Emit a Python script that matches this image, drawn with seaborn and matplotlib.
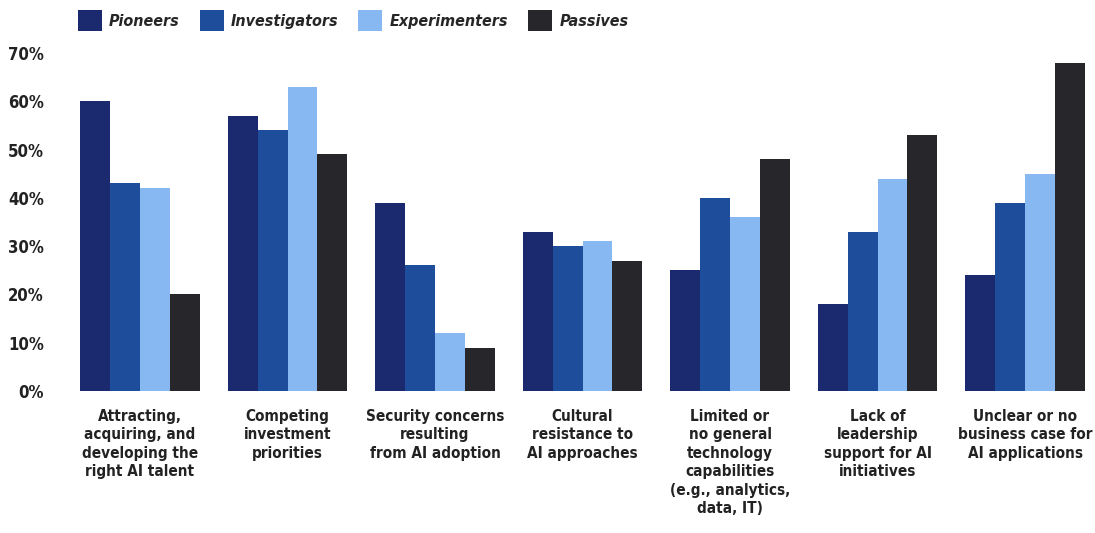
import matplotlib
matplotlib.use("Agg")
import matplotlib.pyplot as plt
from matplotlib import font_manager as fm
from matplotlib.patches import Patch
import seaborn as sns
import pandas as pd

categories = [
    "Attracting,\nacquiring, and\ndeveloping the\nright AI talent",
    "Competing\ninvestment\npriorities",
    "Security concerns\nresulting\nfrom AI adoption",
    "Cultural\nresistance to\nAI approaches",
    "Limited or\nno general\ntechnology\ncapabilities\n(e.g., analytics,\ndata, IT)",
    "Lack of\nleadership\nsupport for AI\ninitiatives",
    "Unclear or no\nbusiness case for\nAI applications",
]
segments = ["Pioneers", "Investigators", "Experimenters", "Passives"]
pioneers = [60, 57, 39, 33, 25, 18, 24]
investigators = [43, 54, 26, 30, 40, 33, 39]
experimenters = [42, 63, 12, 31, 36, 44, 45]
passives = [20, 49, 9, 27, 48, 53, 68]
yticks = [0, 10, 20, 30, 40, 50, 60, 70]
ytick_labels = ["0%", "10%", "20%", "30%", "40%", "50%", "60%", "70%"]
colors = ["#1b2a6e", "#1d4d9b", "#88b8f2", "#27272b"]

sns.set_theme(style="white")

# pick a condensed bold face if one is installed
cand = None
for f in fm.fontManager.ttflist:
    if ("Condensed" in f.fname or "Narrow" in f.fname) and f.weight in ("bold", 700):
        if "DejaVu" in f.name or "Liberation" in f.name:
            cand = f
            break
if cand is not None:
    family = cand.name
    stretch = cand.stretch
    big, small = 12, 11
else:
    family = "DejaVu Sans"
    stretch = "normal"
    big, small = 10.5, 9.5
plt.rcParams["font.family"] = [family, "DejaVu Sans"]
plt.rcParams["font.weight"] = "bold"
plt.rcParams["font.stretch"] = stretch

rows = []
series = [pioneers, investigators, experimenters, passives]
for seg, vals in zip(segments, series):
    for cat, v in zip(categories, vals):
        rows.append({"category": cat, "segment": seg, "value": v})
df = pd.DataFrame(rows)

fig = plt.figure(figsize=(10.95, 5.33), dpi=100)
ax = fig.add_axes([0.0605, 0.2664, 0.9362, 0.6342])
sns.barplot(data=df, x="category", y="value", hue="segment", hue_order=segments,
            order=categories, palette=colors, saturation=1, width=0.81, gap=0,
            linewidth=0, ax=ax, legend=False)
ax.set_xlim(-0.5, 6.45)
ax.set_ylim(0, 70)
ax.set_yticks(yticks)
ax.set_yticklabels(ytick_labels, fontsize=big, fontweight="bold", color="#222222",
                   fontstretch=stretch)
ax.set_xticks(range(len(categories)))
ax.set_xticklabels(categories, fontsize=small, fontweight="bold", color="#222222",
                   fontstretch=stretch, linespacing=1.28, va="top")
ax.tick_params(axis="x", length=0, pad=13)
ax.tick_params(axis="y", length=0, pad=16)
for lbl in ax.get_yticklabels():
    lbl.set_horizontalalignment("right")
ax.set_xlabel("")
ax.set_ylabel("")
sns.despine(ax=ax, left=True, bottom=True, top=True, right=True)
ax.grid(False)

handles = [Patch(facecolor=c, edgecolor="none") for c in colors]
fig.legend(handles, segments, loc="upper left", bbox_to_anchor=(0.058, 1.008),
           ncol=4, frameon=False, handlelength=1.5, handleheight=1.6,
           handletextpad=0.45, columnspacing=1.25,
           prop={"family": [family, "DejaVu Sans"], "weight": "bold",
                 "style": "italic", "size": 11.5, "stretch": stretch})

fig.savefig("out.png", dpi=100)
